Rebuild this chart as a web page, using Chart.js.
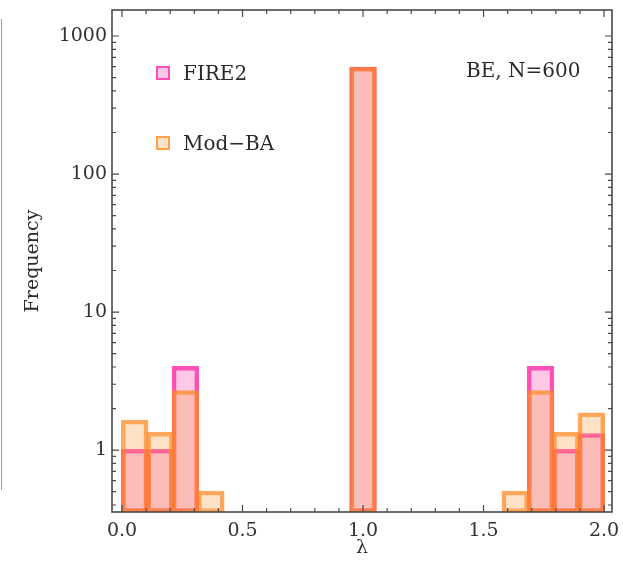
<!DOCTYPE html>
<html>
<head>
<meta charset="utf-8">
<script src="https://cdn.jsdelivr.net/npm/chart.js@4.4.1/dist/chart.umd.min.js"></script>
<style>
  html, body { margin: 0; padding: 0; background: #fff; }
  #wrap { position: relative; width: 623px; height: 581px; }
  #chart { position: absolute; left: 0; top: 0; }
  .edge { position: absolute; left: 1px; top: 19px; height: 471px; border-left: 1.5px solid #9a9a9a; }
  .txt { position: absolute; font: 20px "DejaVu Serif", serif; color: #2a2a2a; line-height: 22px; white-space: nowrap; }
  .sq { position: absolute; width: 10px; height: 10px; border: 2px solid; }
</style>
</head>
<body>
<div id="wrap">
  <canvas id="chart" width="623" height="581"></canvas>
  <div class="edge"></div>
  <div class="sq" style="left:156px;top:66px;background:#fcc8e6;border-color:#ff4fb8;"></div>
  <div class="txt" style="left:183px;top:62px;">FIRE2</div>
  <div class="sq" style="left:156px;top:136px;background:#fde2ca;border-color:#ffa048;"></div>
  <div class="txt" style="left:183px;top:132px;">Mod−BA</div>
  <div class="txt" style="left:466px;top:59px;">BE, N=600</div>
</div>
<script>
// bin centres (bin width 2/19) and the heights
const binCenters = [0.0526, 0.1579, 0.2632, 0.3684, 1.0, 1.6316, 1.7368, 1.8421, 1.9474];
const fire2Counts = [1, 1, 4, null, 588, null, 4, 1, 1.3];
const modBACounts = [1.63, 1.33, 2.67, 0.5, 588, 0.5, 2.67, 1.33, 1.84];
const xTickLabels = [0, 0.5, 1, 1.5, 2];
const yTickLabels = [1, 10, 100, 1000];

const xMin = -0.0415, xMax = 2.033;
const yMin = 0.356, yMax = 1543;

const toPoints = arr => binCenters.map((x, i) => ({ x, y: arr[i] }));

// Mathematica-like frame with inward ticks on all four sides
const framePlugin = {
  id: 'frame',
  afterDatasetsDraw(chart) {
    const { ctx, chartArea: { left, right, top, bottom }, scales: { x, y } } = chart;
    ctx.save();
    ctx.strokeStyle = '#4a4a4a';
    ctx.lineWidth = 1.2;
    ctx.beginPath();
    // minor x ticks every 0.1, major at the labels
    for (let k = 0; k <= 20; k++) {
      const v = k / 10;
      const px = x.getPixelForValue(v);
      const len = xTickLabels.some(t => Math.abs(t - v) < 1e-9) ? 7 : 4;
      ctx.moveTo(px, bottom); ctx.lineTo(px, bottom - len);
      ctx.moveTo(px, top); ctx.lineTo(px, top + len);
    }
    // log minor y ticks
    for (let d = 0.1; d <= 1000; d *= 10) {
      for (let m = 1; m <= 9; m++) {
        const v = d * m;
        if (v < yMin || v > yMax) continue;
        const py = y.getPixelForValue(v);
        const len = m === 1 ? 7 : 4;
        ctx.moveTo(left, py); ctx.lineTo(left + len, py);
        ctx.moveTo(right, py); ctx.lineTo(right - len, py);
      }
    }
    ctx.stroke();
    ctx.lineWidth = 1.6;
    ctx.strokeRect(left, top, right - left, bottom - top);
    ctx.restore();
  }
};

const font = { family: '"DejaVu Serif", serif', size: 19 };

new Chart(document.getElementById('chart'), {
  type: 'bar',
  data: {
    datasets: [
      {
        label: 'Mod-BA',
        data: toPoints(modBACounts),
        backgroundColor: 'rgba(252, 158, 72, 0.30)',
        borderColor: 'rgba(255, 135, 30, 0.72)',
        borderWidth: 2.5,
        borderSkipped: false,
        inflateAmount: 1,
        grouped: false,
        barPercentage: 1,
        categoryPercentage: 1,
        order: 0
      },
      {
        label: 'FIRE2',
        data: toPoints(fire2Counts),
        backgroundColor: 'rgba(245, 72, 172, 0.30)',
        borderColor: 'rgba(255, 50, 170, 0.85)',
        borderWidth: 2.5,
        borderSkipped: false,
        inflateAmount: 1,
        grouped: false,
        barPercentage: 1,
        categoryPercentage: 1,
        order: 1
      }
    ]
  },
  options: {
    responsive: false,
    animation: false,
    layout: { padding: { top: 10, right: 11, left: 0, bottom: 0 } },
    plugins: { legend: { display: false }, tooltip: { enabled: false } },
    scales: {
      x: {
        type: 'linear',
        min: xMin,
        max: xMax,
        offset: false,
        grid: { display: false, drawTicks: false },
        border: { display: false },
        afterBuildTicks: s => { s.ticks = xTickLabels.map(v => ({ value: v })); },
        afterFit: s => { s.height = 69; s.paddingLeft = 0; s.paddingRight = 0; },
        ticks: {
          autoSkip: false,
          maxRotation: 0,
          padding: 8,
          color: '#333',
          font,
          callback: v => Number(v).toFixed(1)
        },
        title: { display: true, text: 'λ', color: '#333', font, padding: { top: 0, bottom: 22 } }
      },
      y: {
        type: 'logarithmic',
        min: yMin,
        max: yMax,
        grid: { display: false, drawTicks: false },
        border: { display: false },
        afterBuildTicks: s => { s.ticks = yTickLabels.map(v => ({ value: v })); },
        afterFit: s => { s.width = 112; s.paddingTop = 0; s.paddingBottom = 0; },
        ticks: {
          autoSkip: false,
          padding: 5,
          color: '#333',
          font,
          callback: v => String(v)
        },
        title: { display: true, text: 'Frequency', color: '#2a2a2a', font, padding: { top: 22, bottom: 0 } }
      }
    }
  },
  plugins: [framePlugin]
});
</script>
</body>
</html>
